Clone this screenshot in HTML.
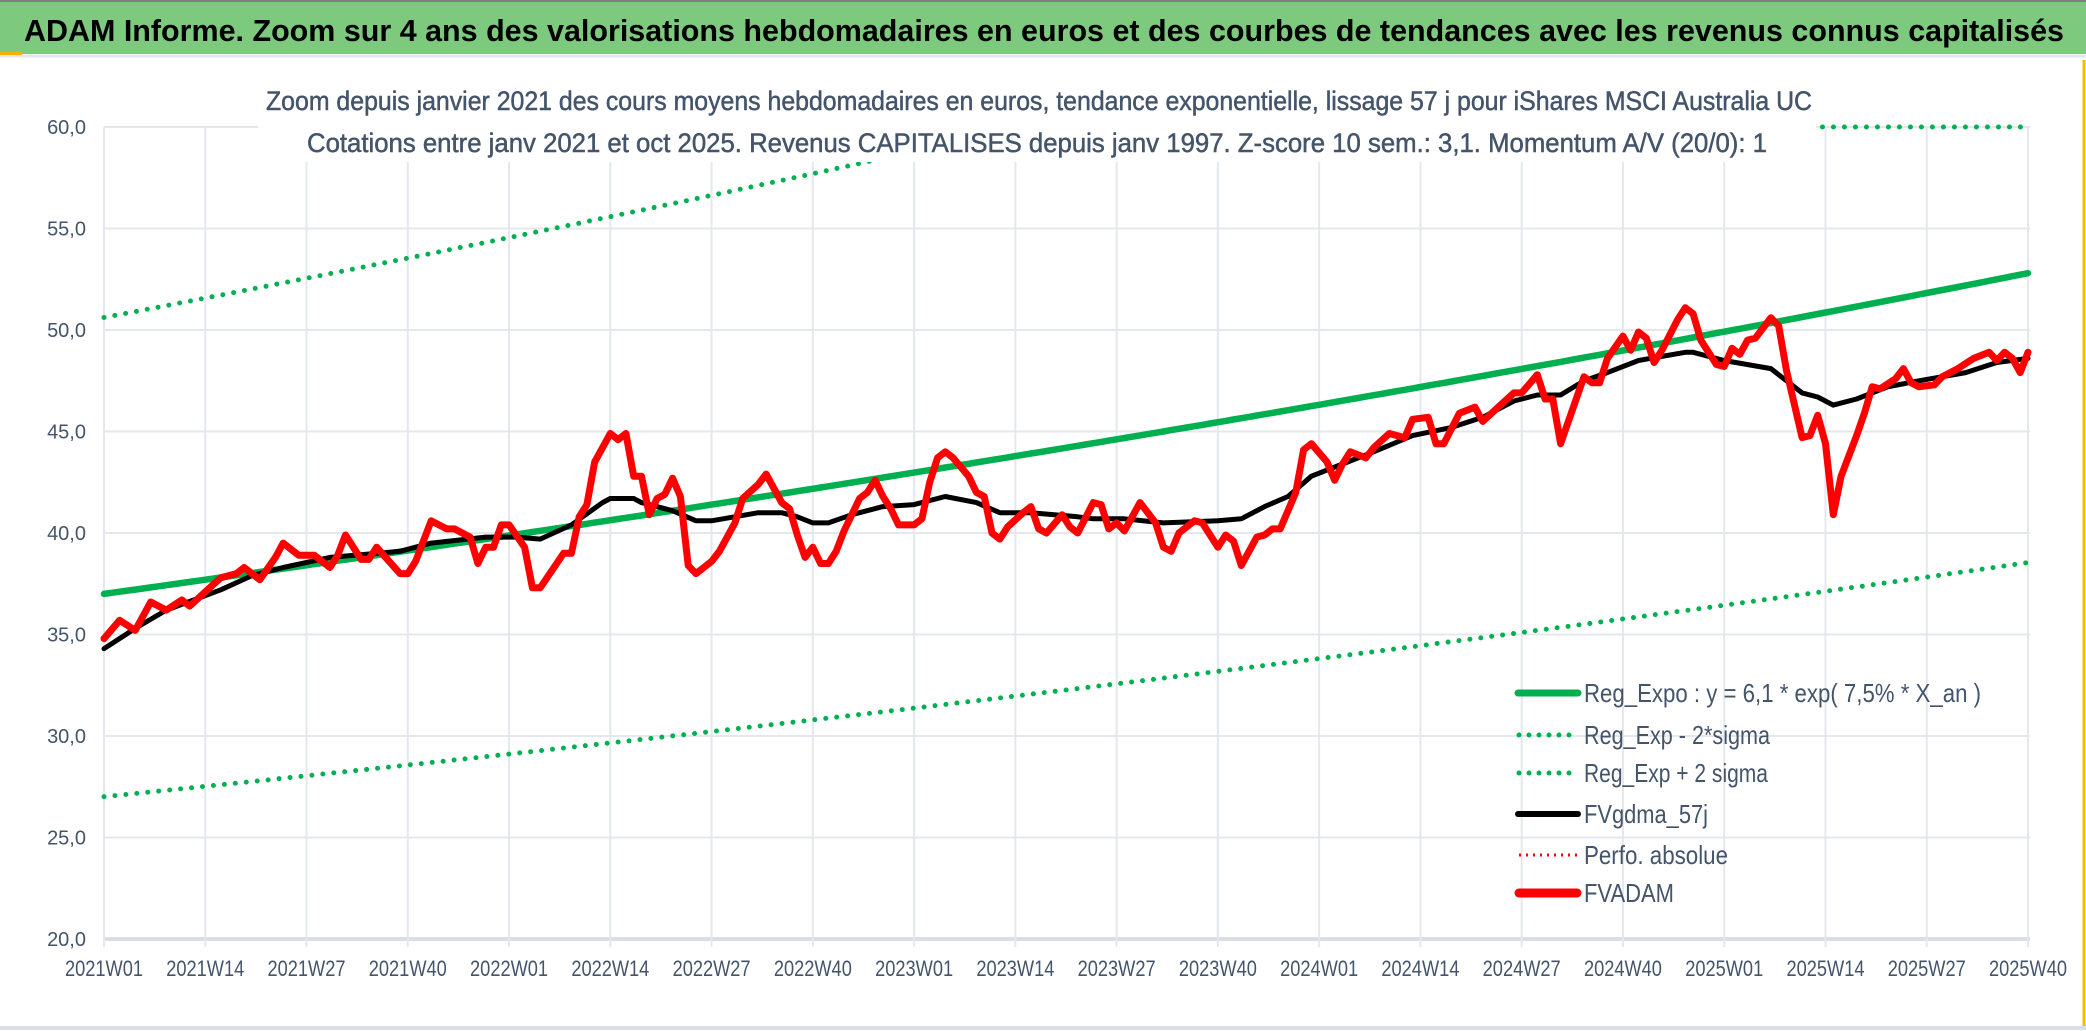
<!DOCTYPE html>
<html><head><meta charset="utf-8"><style>
html,body{margin:0;padding:0;background:#fff;}
svg{display:block;font-family:"Liberation Sans",sans-serif;}
</style></head><body>
<svg id="chart" width="2086" height="1031" viewBox="0 0 2086 1031" xmlns="http://www.w3.org/2000/svg">
<rect x="0" y="0" width="2086" height="1031" fill="#fff"/>
<rect x="0" y="0" width="2086" height="54" fill="#7DC97E"/>
<line x1="0" y1="1" x2="2086" y2="1" stroke="#7f7f7f" stroke-width="2"/>
<line x1="0" y1="56" x2="2086" y2="56" stroke="#e3e6ec" stroke-width="3"/>
<rect x="0" y="52" width="22" height="3" fill="#f0b400"/>
<text x="24" y="41" font-size="31" font-weight="bold" fill="#000" textLength="2040" lengthAdjust="spacingAndGlyphs">ADAM Informe. Zoom sur 4 ans des valorisations hebdomadaires en euros et des courbes de tendances avec les revenus connus capitalisés</text>
<g id="grid"></g>
<g id="series"></g>
<rect x="258" y="62" width="1558" height="100" fill="#fff"/>
<text x="266" y="110" font-size="27" fill="#44546A" stroke="#44546A" stroke-width="0.5" textLength="1546" lengthAdjust="spacingAndGlyphs">Zoom depuis janvier 2021 des cours moyens hebdomadaires en euros, tendance exponentielle, lissage 57 j pour iShares MSCI Australia UC</text>
<text x="307" y="152" font-size="27" fill="#44546A" stroke="#44546A" stroke-width="0.5" textLength="1460" lengthAdjust="spacingAndGlyphs">Cotations entre janv 2021 et oct 2025. Revenus CAPITALISES depuis janv 1997. Z-score 10 sem.: 3,1. Momentum A/V (20/0): 1</text>
<g id="axes"></g>
<g id="legend">
 <g>
  <line x1="1518" y1="693" x2="1578" y2="693" stroke="#00B050" stroke-width="7" stroke-linecap="round"/>
  <text x="1584" y="702" font-size="26" fill="#44546A" textLength="397" lengthAdjust="spacingAndGlyphs">Reg_Expo : y = 6,1 * exp( 7,5% *  X_an )</text>
 </g>
 <g>
  <line x1="1519" y1="735" x2="1578" y2="735" stroke="#00B050" stroke-width="5" stroke-dasharray="0 10" stroke-linecap="round"/>
  <text x="1584" y="744" font-size="26" fill="#44546A" textLength="186" lengthAdjust="spacingAndGlyphs">Reg_Exp - 2*sigma</text>
 </g>
 <g>
  <line x1="1519" y1="773" x2="1578" y2="773" stroke="#00B050" stroke-width="5" stroke-dasharray="0 10" stroke-linecap="round"/>
  <text x="1584" y="782" font-size="26" fill="#44546A" textLength="184" lengthAdjust="spacingAndGlyphs">Reg_Exp + 2 sigma</text>
 </g>
 <g>
  <line x1="1518" y1="814" x2="1578" y2="814" stroke="#000" stroke-width="6" stroke-linecap="round"/>
  <text x="1584" y="823" font-size="26" fill="#44546A" textLength="124" lengthAdjust="spacingAndGlyphs">FVgdma_57j</text>
 </g>
 <g>
  <line x1="1519" y1="855" x2="1578" y2="855" stroke="#FF0000" stroke-width="3" stroke-dasharray="2 5"/>
  <text x="1584" y="864" font-size="26" fill="#44546A" textLength="144" lengthAdjust="spacingAndGlyphs">Perfo. absolue</text>
 </g>
 <g>
  <line x1="1519" y1="893" x2="1577" y2="893" stroke="#FF0000" stroke-width="9" stroke-linecap="round"/>
  <text x="1584" y="902" font-size="26" fill="#44546A" textLength="90" lengthAdjust="spacingAndGlyphs">FVADAM</text>
 </g>
</g>
<line x1="0" y1="1028" x2="2086" y2="1028" stroke="#d9dde4" stroke-width="4"/>
<line x1="2084" y1="60" x2="2084" y2="1026" stroke="#f0c000" stroke-width="3"/>
</svg>
<script>
const xTickLabels = ["2021W01","2021W14","2021W27","2021W40","2022W01","2022W14","2022W27","2022W40","2023W01","2023W14","2023W27","2023W40","2024W01","2024W14","2024W27","2024W40","2025W01","2025W14","2025W27","2025W40"];
const yTicks = [20,25,30,35,40,45,50,55,60];
const regWeeks = [0, 247];
const regValues = [37.0, 52.8];
const sigmaFactors = [0.73, 1.368];
const redWeeks = [0,2,4,6,8,10,11,15,17,18,20,22,23,25,27,29,30,31,33,34,35,38,39,40,42,44,45,47,48,49,50,51,52,54,55,56,59,60,61,62,63,65,66,67,68,69,70,71,72,73,74,75,76,78,79,81,82,84,85,87,88,89,90,91,92,93,94,95,97,98,99,100,101,102,104,105,106,107,108,109,111,112,113,114,115,116,118,119,120,121,123,124,125,127,128,129,130,131,133,135,136,137,138,140,141,143,144,145,146,148,149,150,151,153,154,155,157,158,159,160,162,163,165,166,167,168,170,171,172,174,176,177,179,181,182,184,185,186,187,189,190,191,192,193,195,196,197,198,199,200,202,203,204,205,207,208,209,210,211,212,214,215,216,218,219,220,221,222,223,225,226,227,228,230,231,232,233,235,236,238,240,242,243,244,245,246,247];
const redValues = [34.8,35.7,35.2,36.6,36.2,36.7,36.4,37.8,38.0,38.3,37.7,38.8,39.5,38.9,38.9,38.3,38.9,39.9,38.7,38.7,39.3,38.0,38.0,38.6,40.6,40.2,40.2,39.8,38.5,39.3,39.3,40.4,40.4,39.3,37.3,37.3,39.0,39.0,40.8,41.4,43.5,44.9,44.6,44.9,42.8,42.8,40.9,41.7,41.9,42.7,41.8,38.4,38.0,38.6,39.1,40.5,41.7,42.4,42.9,41.5,41.2,39.9,38.8,39.3,38.5,38.5,39.1,40.1,41.7,42.0,42.6,41.8,41.2,40.4,40.4,40.7,42.5,43.7,44.0,43.7,42.8,42.0,41.8,40.0,39.7,40.3,41.0,41.3,40.2,40.0,40.9,40.3,40.0,41.5,41.4,40.2,40.5,40.1,41.5,40.5,39.3,39.1,40.0,40.6,40.5,39.3,39.9,39.6,38.4,39.8,39.9,40.2,40.2,42.0,44.1,44.4,43.5,42.6,43.4,44.0,43.7,44.2,44.9,44.8,44.7,45.6,45.7,44.4,44.4,45.9,46.2,45.5,46.2,46.9,46.9,47.8,46.6,46.6,44.4,46.6,47.7,47.4,47.4,48.6,49.7,49.0,49.9,49.6,48.4,49.0,50.5,51.1,50.8,49.5,48.3,48.2,49.1,48.8,49.5,49.6,50.6,50.2,48.0,44.7,44.8,45.8,44.4,40.9,42.8,44.8,45.9,47.2,47.1,47.6,48.1,47.4,47.2,47.3,47.7,48.1,48.6,48.9,48.5,48.9,48.6,47.9,48.9];
const blackWeeks = [0,4,8,15,19,23,29,38,42,49,53,56,60,64,65,68,69,73,76,78,84,87,89,91,93,96,100,104,108,112,115,119,125,127,131,136,143,146,149,152,155,159,163,168,173,177,181,184,187,190,193,197,203,204,208,214,216,218,220,222,225,229,233,239,243,247];
const blackValues = [34.3,35.3,36.2,37.2,37.9,38.3,38.8,39.1,39.5,39.8,39.8,39.7,40.4,41.5,41.7,41.7,41.5,41.1,40.6,40.6,41.0,41.0,40.8,40.5,40.5,40.9,41.3,41.4,41.8,41.5,41.0,41.0,40.8,40.7,40.7,40.5,40.6,40.7,41.3,41.8,42.8,43.4,44.0,44.8,45.2,45.7,46.5,46.8,46.8,47.5,47.9,48.5,48.9,48.9,48.5,48.1,47.5,46.9,46.7,46.3,46.6,47.2,47.5,47.9,48.4,48.6];

const NS = "http://www.w3.org/2000/svg";
const X0 = 104, X1 = 2028, Y20 = 939, Y60 = 127;
const totalWeeks = 247;
const xScale = w => X0 + (X1 - X0) * w / totalWeeks;
const yScale = v => Y20 - (v - 20) * (Y20 - Y60) / 40;
function mk(tag, attrs, parent) {
  const el = document.createElementNS(NS, tag);
  for (const k in attrs) el.setAttribute(k, attrs[k]);
  parent.appendChild(el);
  return el;
}
const grid = document.getElementById('grid');
const axes = document.getElementById('axes');
const series = document.getElementById('series');

yTicks.forEach(v => {
  const y = yScale(v);
  const gl = mk('line', {x1: X0, x2: X1 + 2, y1: y, y2: y, stroke: v === 20 ? '#d9dde4' : '#e4e8ee', 'stroke-width': v === 20 ? 4 : 2}, grid);
  
  
  const t = mk('text', {x: 86, y: y + 7, 'font-size': 20, fill: '#44546A', 'text-anchor': 'end'}, axes);
  t.textContent = v.toFixed(1).replace('.', ',');
  
  
});
xTickLabels.forEach((lab, i) => {
  const x = xScale(i * 13);
  const gl = mk('line', {x1: x, x2: x, y1: Y60, y2: Y20 + 8, stroke: '#e4e8ee', 'stroke-width': 2}, grid);
  
  
  const t = mk('text', {x: x, y: 976, 'font-size': 22, fill: '#44546A', 'text-anchor': 'middle', textLength: 78, lengthAdjust: 'spacingAndGlyphs'}, axes);
  t.textContent = lab;
  
  
});

function regAt(w) {
  const r = Math.log(regValues[1] / regValues[0]) / (regWeeks[1] - regWeeks[0]);
  return regValues[0] * Math.exp(r * (w - regWeeks[0]));
}
function pathFrom(ws, vs, clip) {
  return ws.map((w, i) => (i ? 'L' : 'M') + xScale(w).toFixed(1) + ',' + yScale(clip ? Math.min(vs[i], 60) : vs[i]).toFixed(1)).join(' ');
}
const allWeeks = [];
for (let w = 0; w <= totalWeeks; w++) allWeeks.push(w);
const regSeries = allWeeks.map(regAt);
const lowSeries = regSeries.map(v => v * sigmaFactors[0]);
const upSeries = regSeries.map(v => v * sigmaFactors[1]);

const pLow = mk('path', {d: pathFrom(allWeeks, lowSeries), fill: 'none', stroke: '#00B050', 'stroke-width': 5, 'stroke-dasharray': '0 11', 'stroke-linecap': 'round'}, series);


const pUp = mk('path', {d: pathFrom(allWeeks, upSeries, true), fill: 'none', stroke: '#00B050', 'stroke-width': 5, 'stroke-dasharray': '0 11', 'stroke-linecap': 'round'}, series);


const pReg = mk('path', {d: pathFrom(allWeeks, regSeries), fill: 'none', stroke: '#00B050', 'stroke-width': 6.5, 'stroke-linecap': 'round'}, series);


const pBlack = mk('path', {d: pathFrom(blackWeeks, blackValues), fill: 'none', stroke: '#000', 'stroke-width': 5, 'stroke-linejoin': 'round', 'stroke-linecap': 'round'}, series);


const pRed = mk('path', {d: pathFrom(redWeeks, redValues), fill: 'none', stroke: '#FF0000', 'stroke-width': 7, 'stroke-linejoin': 'round', 'stroke-linecap': 'round'}, series);


</script>
</body></html>
